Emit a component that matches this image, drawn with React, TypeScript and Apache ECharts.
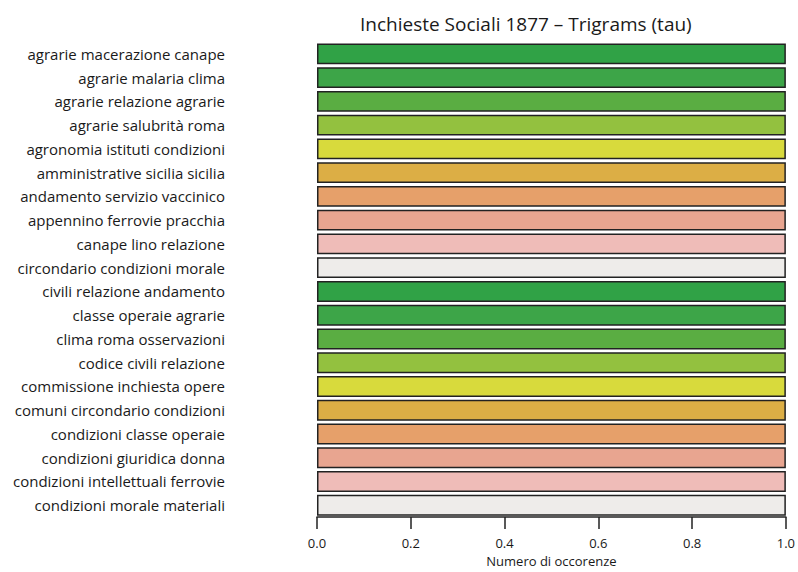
import React, { useEffect, useRef } from "react";
import * as echarts from "echarts";

const categories = [
  "agrarie macerazione canape",
  "agrarie malaria clima",
  "agrarie relazione agrarie",
  "agrarie salubrità roma",
  "agronomia istituti condizioni",
  "amministrative sicilia sicilia",
  "andamento servizio vaccinico",
  "appennino ferrovie pracchia",
  "canape lino relazione",
  "circondario condizioni morale",
  "civili relazione andamento",
  "classe operaie agrarie",
  "clima roma osservazioni",
  "codice civili relazione",
  "commissione inchiesta opere",
  "comuni circondario condizioni",
  "condizioni classe operaie",
  "condizioni giuridica donna",
  "condizioni intellettuali ferrovie",
  "condizioni morale materiali",
];

const values = [1, 1, 1, 1, 1, 1, 1, 1, 1, 1, 1, 1, 1, 1, 1, 1, 1, 1, 1, 1];

const palette = [
  "#30a246",
  "#3da548",
  "#5aad42",
  "#93c13f",
  "#d8da3c",
  "#dcae45",
  "#e6a06a",
  "#e8a590",
  "#efbcb8",
  "#eeecea",
];

const xTicks = [0, 0.2, 0.4, 0.6, 0.8, 1.0];

const titleText = "Inchieste Sociali 1877 – Trigrams (tau)";
const xAxisName = "Numero di occorenze";

const FONT = "'Open Sans', 'Noto Sans', sans-serif";

export default function App() {
  const ref = useRef<HTMLDivElement>(null);

  useEffect(() => {
    if (!ref.current) return;
    const chart = echarts.init(ref.current, undefined, { renderer: "svg" });
    chart.setOption({
      animation: false,
      backgroundColor: "#ffffff",
      title: {
        text: titleText,
        left: 355,
        top: 9,
        textStyle: {
          fontFamily: FONT,
          fontSize: 19,
          fontWeight: "normal",
          color: "#1a1a1a",
        },
      },
      grid: {
        left: 317,
        right: 11,
        top: 42,
        height: 483,
        containLabel: false,
      },
      xAxis: {
        type: "value",
        min: 0,
        max: 1,
        interval: 0.2,
        name: xAxisName,
        nameLocation: "middle",
        nameGap: 32,
        nameTextStyle: {
          fontFamily: FONT,
          fontSize: 13,
          color: "#1a1a1a",
        },
        axisLine: { show: true, lineStyle: { color: "#222", width: 1.5 } },
        axisTick: {
          show: true,
          length: 12,
          lineStyle: { color: "#222", width: 1.5 },
        },
        axisLabel: {
          fontFamily: FONT,
          fontSize: 13,
          color: "#1a1a1a",
          margin: 19,
          formatter: (v: number) =>
            xTicks.some((t) => Math.abs(t - v) < 1e-9) ? v.toFixed(1) : "",
        },
        splitLine: { show: false },
      },
      yAxis: {
        type: "category",
        data: categories,
        inverse: true,
        axisLine: { show: false },
        axisTick: { show: false },
        axisLabel: {
          fontFamily: FONT,
          fontSize: 15,
          color: "#1a1a1a",
          margin: 92,
          align: "right",
        },
        splitLine: { show: false },
      },
      series: [
        {
          type: "bar",
          data: values.map((v, i) => ({
            value: v,
            itemStyle: { color: palette[i % palette.length] },
          })),
          barCategoryGap: "12%",
          itemStyle: { borderColor: "#222", borderWidth: 1.5 },
        },
      ],
    });
    return () => chart.dispose();
  }, []);

  return (
    <div
      ref={ref}
      style={{ width: 798, height: 572, position: "absolute", left: 0, top: 0 }}
    />
  );
}
